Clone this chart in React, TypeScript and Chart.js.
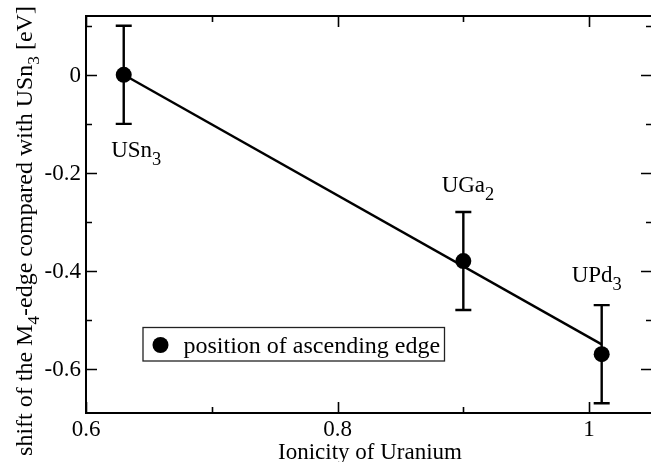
import React, { useEffect, useRef } from "react";
import { Chart, registerables } from "chart.js";

Chart.register(...registerables);

// ---- data ----
const compoundNames = ["USn", "UGa", "UPd"];
const compoundSubs = ["3", "2", "3"];
const ionicity = [0.63, 0.9, 1.01];
const edgeShift = [0, -0.38, -0.57];
const shiftError = [0.1, 0.1, 0.1];

const fitX = [0.63, 1.01];
const fitY = [0, -0.55];

const xMajorTicks = [0.6, 0.8, 1.0];
const xTickLabels = ["0.6", "0.8", "1"];
const xMinorTicks = [0.7, 0.9];
const yMajorTicks = [0, -0.2, -0.4, -0.6];
const yTickLabels = ["0", "-0.2", "-0.4", "-0.6"];
const yMinorTicks = [0.1, -0.1, -0.3, -0.5];

const xTitle = "Ionicity of Uranium";
const yTitleParts: [string, boolean][] = [
  ["shift of the M", false],
  ["4", true],
  ["-edge compared with USn", false],
  ["3", true],
  [" [eV]", false],
];
const legendLabel = "position of ascending edge";

const FONT = '"Liberation Serif", "Times New Roman", serif';

function font(size: number) {
  return `${size}px ${FONT}`;
}

function richWidth(ctx: CanvasRenderingContext2D, parts: [string, boolean][], size: number, subScale: number) {
  let w = 0;
  for (const [t, sub] of parts) {
    ctx.font = font(sub ? size * subScale : size);
    w += ctx.measureText(t).width;
  }
  return w;
}

function drawRich(
  ctx: CanvasRenderingContext2D,
  parts: [string, boolean][],
  x: number,
  y: number,
  size: number,
  align: "left" | "center",
  subScale = 0.75,
  subShift = 0.3
) {
  const total = richWidth(ctx, parts, size, subScale);
  let cx = align === "center" ? x - total / 2 : x;
  ctx.textAlign = "left";
  ctx.textBaseline = "alphabetic";
  for (const [t, sub] of parts) {
    ctx.font = font(sub ? size * subScale : size);
    ctx.fillText(t, cx, sub ? y + size * subShift : y);
    cx += ctx.measureText(t).width;
  }
}

const decorPlugin = {
  id: "decor",
  beforeDatasetsDraw(chart: any) {
    const ctx: CanvasRenderingContext2D = chart.ctx;
    const xs = chart.scales.x;
    const ys = chart.scales.y;
    ctx.save();
    ctx.strokeStyle = "#000";
    ctx.lineWidth = 2.4;
    ctx.lineCap = "butt";
    for (let i = 0; i < ionicity.length; i++) {
      const px = xs.getPixelForValue(ionicity[i]);
      const top = ys.getPixelForValue(edgeShift[i] + shiftError[i]);
      const bot = ys.getPixelForValue(edgeShift[i] - shiftError[i]);
      ctx.beginPath();
      ctx.moveTo(px, top);
      ctx.lineTo(px, bot);
      ctx.moveTo(px - 8, top);
      ctx.lineTo(px + 8, top);
      ctx.moveTo(px - 8, bot);
      ctx.lineTo(px + 8, bot);
      ctx.stroke();
    }
    ctx.restore();
  },
  afterDraw(chart: any) {
    const ctx: CanvasRenderingContext2D = chart.ctx;
    const { left, right, top, bottom } = chart.chartArea;
    const xs = chart.scales.x;
    const ys = chart.scales.y;
    ctx.save();
    ctx.fillStyle = "#000";
    ctx.strokeStyle = "#000";

    // frame
    ctx.lineWidth = 2;
    ctx.strokeRect(left, top, right - left, bottom - top);

    // ticks (inward)
    ctx.lineWidth = 1.6;
    const major = 11;
    const minor = 6;
    ctx.beginPath();
    for (const v of xMajorTicks) {
      const p = Math.round(xs.getPixelForValue(v)) + 0.5;
      ctx.moveTo(p, bottom);
      ctx.lineTo(p, bottom - major);
      ctx.moveTo(p, top);
      ctx.lineTo(p, top + major);
    }
    for (const v of xMinorTicks) {
      const p = Math.round(xs.getPixelForValue(v)) + 0.5;
      ctx.moveTo(p, bottom);
      ctx.lineTo(p, bottom - minor);
      ctx.moveTo(p, top);
      ctx.lineTo(p, top + minor);
    }
    for (const v of yMajorTicks) {
      const p = Math.round(ys.getPixelForValue(v)) + 0.5;
      ctx.moveTo(left, p);
      ctx.lineTo(left + major, p);
      ctx.moveTo(right, p);
      ctx.lineTo(right - major, p);
    }
    for (const v of yMinorTicks) {
      const p = Math.round(ys.getPixelForValue(v)) + 0.5;
      ctx.moveTo(left, p);
      ctx.lineTo(left + minor, p);
      ctx.moveTo(right, p);
      ctx.lineTo(right - minor, p);
    }
    ctx.stroke();

    // tick labels
    ctx.font = font(23);
    ctx.textAlign = "center";
    ctx.textBaseline = "alphabetic";
    xMajorTicks.forEach((v, i) => {
      ctx.fillText(xTickLabels[i], xs.getPixelForValue(v), bottom + 23);
    });
    ctx.textAlign = "right";
    ctx.textBaseline = "middle";
    yMajorTicks.forEach((v, i) => {
      ctx.fillText(yTickLabels[i], left - 5, ys.getPixelForValue(v) + 1);
    });

    // x title
    ctx.font = font(23);
    ctx.textAlign = "center";
    ctx.textBaseline = "alphabetic";
    ctx.fillText(xTitle, (left + right) / 2 + 1, bottom + 46);

    // y title
    ctx.save();
    ctx.translate(32, 231);
    ctx.rotate(-Math.PI / 2);
    drawRich(ctx, yTitleParts, 0, 0, 24, "center", 0.72, 0.3);
    ctx.restore();

    // compound annotations
    const offsets = [
      [-12.6, 82],
      [-21.7, -69.3],
      [-30, -72.3],
    ];
    for (let i = 0; i < compoundNames.length; i++) {
      const px = xs.getPixelForValue(ionicity[i]);
      const py = ys.getPixelForValue(edgeShift[i]);
      drawRich(
        ctx,
        [
          [compoundNames[i], false],
          [compoundSubs[i], true],
        ],
        px + offsets[i][0],
        py + offsets[i][1],
        23,
        "left",
        0.8,
        0.36
      );
    }

    // legend
    const lx = left + 57;
    const ly = top + 311.5;
    ctx.lineWidth = 1.3;
    ctx.strokeStyle = "#222";
    ctx.strokeRect(lx, ly, 301.5, 33.5);
    ctx.beginPath();
    ctx.arc(lx + 17.5, ly + 17.5, 8, 0, Math.PI * 2);
    ctx.fill();
    ctx.font = font(24);
    ctx.textAlign = "left";
    ctx.textBaseline = "alphabetic";
    ctx.fillText(legendLabel, lx + 40.5, ly + 25.5);

    ctx.restore();
  },
};

export default function App() {
  const ref = useRef<HTMLCanvasElement | null>(null);

  useEffect(() => {
    if (!ref.current) return;
    const chart = new Chart(ref.current, {
      type: "scatter",
      data: {
        datasets: [
          {
            label: "fit",
            data: fitX.map((x, i) => ({ x, y: fitY[i] })),
            showLine: true,
            borderColor: "#000",
            borderWidth: 2.4,
            pointRadius: 0,
            fill: false,
          } as any,
          {
            label: legendLabel,
            data: ionicity.map((x, i) => ({ x, y: edgeShift[i] })),
            pointRadius: 8,
            pointHoverRadius: 8,
            backgroundColor: "#000",
            borderColor: "#000",
            borderWidth: 0,
          },
        ],
      },
      options: {
        responsive: false,
        animation: false,
        events: [],
        layout: { padding: { left: 86, top: 16, right: 6, bottom: 49 } },
        plugins: {
          legend: { display: false },
          tooltip: { enabled: false },
        },
        scales: {
          x: { type: "linear", min: 0.6, max: 1.05, display: false },
          y: { type: "linear", min: -0.69, max: 0.12, display: false },
        },
      },
      plugins: [decorPlugin],
    });
    return () => chart.destroy();
  }, []);

  return (
    <canvas
      ref={ref}
      width={660}
      height={462}
      style={{ position: "fixed", left: 0, top: 0, width: 660, height: 462, background: "#fff" }}
    />
  );
}
